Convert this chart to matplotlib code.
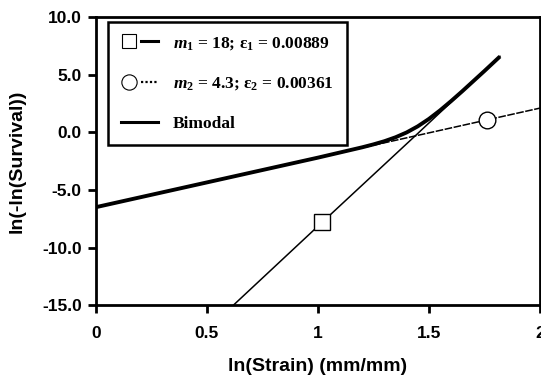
import matplotlib.pyplot as plt
from matplotlib.lines import Line2D
from matplotlib.legend_handler import HandlerTuple

plt.rcParams['mathtext.fontset'] = 'custom'
plt.rcParams['mathtext.rm'] = 'Liberation Serif:bold'
plt.rcParams['mathtext.it'] = 'Liberation Serif:italic:bold'

# mode 1 (steep) line
x_m1 = [0.62, 1.02, 1.45, 1.82]
y_m1 = [-15.0, -7.8, -0.1, 6.6]
sq_x, sq_y = [1.02], [-7.8]

# mode 2 (shallow) line
x_m2 = [0.0, 1.0, 1.76, 2.0]
y_m2 = [-6.5, -2.2, 1.07, 2.1]
ci_x, ci_y = [1.76], [1.1]

# bimodal curve
x_bi = [0.0, 0.5, 1.0, 1.2, 1.25, 1.3, 1.35, 1.4, 1.45, 1.5, 1.55, 1.6, 1.65, 1.7, 1.75, 1.82]
y_bi = [-6.5, -4.35, -2.2, -1.30, -1.05, -0.77, -0.43, -0.01, 0.52, 1.16, 1.90, 2.71, 3.56, 4.44, 5.32, 6.58]

xticks = [0, 0.5, 1, 1.5, 2]
xtick_labels = ["0", "0.5", "1", "1.5", "2"]
yticks = [10, 5, 0, -5, -10, -15]
ytick_labels = ["10.0", "5.0", "0.0", "-5.0", "-10.0", "-15.0"]

fig = plt.figure(figsize=(5.41, 3.8), dpi=100)
ax = fig.add_axes([0.177, 0.197, 0.821, 0.758])

ax.plot(x_m2, y_m2, color="black", linewidth=1.1, linestyle=(0, (5, 1)))
ax.plot(x_m1, y_m1, color="black", linewidth=1.1)
ax.plot(x_bi, y_bi, color="black", linewidth=2.8, solid_capstyle="butt")
ax.plot(sq_x, sq_y, marker="s", markersize=12, markerfacecolor="white",
        markeredgecolor="black", markeredgewidth=1.0, linestyle="none", zorder=5)
ax.plot(ci_x, ci_y, marker="o", markersize=12, markerfacecolor="white",
        markeredgecolor="black", markeredgewidth=1.0, linestyle="none", zorder=5)

ax.set_xlim(0, 2)
ax.set_ylim(-15, 10)
ax.set_xticks(xticks)
ax.set_xticklabels(xtick_labels)
ax.set_yticks(yticks)
ax.set_yticklabels(ytick_labels)
for lab in ax.get_xticklabels() + ax.get_yticklabels():
    lab.set_fontfamily("Liberation Sans")
    lab.set_fontweight("bold")
    lab.set_fontsize(12.5)
ax.tick_params(direction="out", width=2, length=6)
ax.tick_params(axis="x", pad=9)
ax.tick_params(axis="y", pad=4)
for s in ax.spines.values():
    s.set_linewidth(2)

ax.set_xlabel("ln(Strain) (mm/mm)", fontfamily="Liberation Sans", fontweight="bold", fontsize=14, labelpad=12)
ax.set_ylabel("ln(-ln(Survival))", fontfamily="Liberation Sans", fontweight="bold", fontsize=14, labelpad=12)

h1 = (Line2D([], [], marker="s", markersize=10, markerfacecolor="white", markeredgecolor="black",
             markeredgewidth=0.8, linestyle="none"),
      Line2D([], [], color="black", linewidth=2.2))
h2 = (Line2D([], [], marker="o", markersize=11, markerfacecolor="white", markeredgecolor="black",
             markeredgewidth=0.8, linestyle="none"),
      Line2D([], [], color="black", linewidth=1.6, linestyle=(0, (1, 1))))
h3 = Line2D([], [], color="black", linewidth=2.2)
leg = ax.legend([h1, h2, h3],
                [r"$m_1$ = 18; ε$_1$ = 0.00889", r"$m_2$ = 4.3; ε$_2$ = 0.00361", "Bimodal"],
                handler_map={tuple: HandlerTuple(ndivide=None, pad=0.2)},
                loc="upper left", bbox_to_anchor=(0.02, 0.995), fancybox=False,
                framealpha=1, edgecolor="black", handlelength=2.1, handletextpad=0.9,
                labelspacing=1.35, borderpad=0.75, borderaxespad=0.2,
                prop={"family": "Liberation Serif", "weight": "bold", "size": 12.5})
leg.get_frame().set_linewidth(1.8)

fig.savefig("out.png", dpi=100)
